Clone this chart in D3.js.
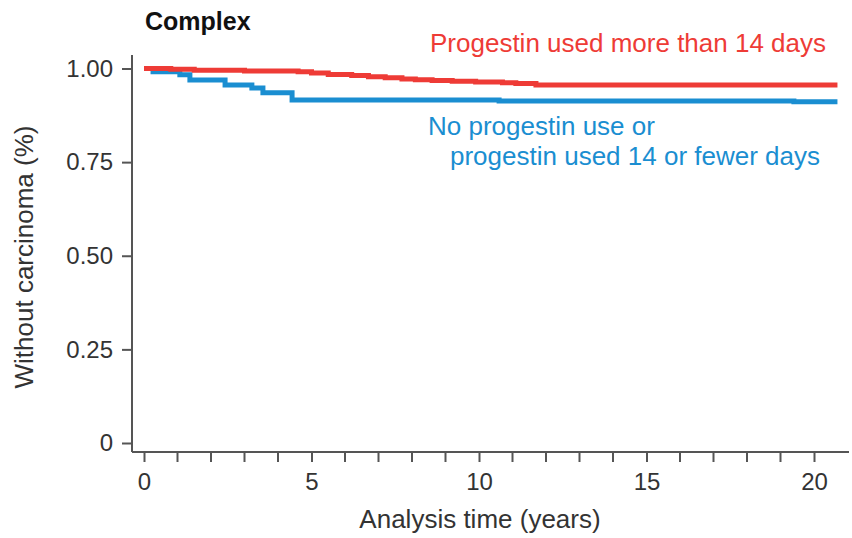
<!DOCTYPE html>
<html>
<head>
<meta charset="utf-8">
<script src="https://cdn.jsdelivr.net/npm/d3@7"></script>
<style>
    body { margin: 0; background: #fff; }
    svg { display: block; font-family: 'Liberation Sans', Arial, sans-serif; }
    .axis text { fill: #333; font-family: 'Liberation Sans', Arial, sans-serif; }
    .axis path, .axis line { stroke: #555; stroke-width: 2; }
</style>
</head>
<body>
<div class="km-container"></div>
<script>
// Data: Kaplan-Meier step points [years, proportion]
const progestinLong = [
    [0, 1.0], [0.8, 0.998], [1.5, 0.995], [3.0, 0.993], [4.6, 0.991],
    [5.0, 0.988], [5.5, 0.984], [6.2, 0.981], [6.7, 0.978], [7.2, 0.975],
    [7.7, 0.972], [8.1, 0.970], [8.6, 0.968], [9.2, 0.966], [9.9, 0.964],
    [10.7, 0.962], [11.1, 0.960], [11.7, 0.956], [20.7, 0.956]
];
const progestinShort = [
    [0, 1.0], [0.27, 0.991], [1.07, 0.983], [1.37, 0.969], [2.42, 0.956],
    [3.22, 0.948], [3.55, 0.935], [4.42, 0.916], [10.6, 0.913],
    [19.4, 0.911], [20.7, 0.911]
];
const xTicks = [0, 5, 10, 15, 20];
const xMinorTicks = d3.range(0, 21, 1);
const yTicks = [0, 0.25, 0.5, 0.75, 1];
const yTickLabels = ['0', '0.25', '0.50', '0.75', '1.00'];

const svgWidth = 852;
const svgHeight = 538;

// Scales (pixel positions measured from reference)
const xScale = d3.scaleLinear().domain([0, 20]).range([144, 814]);
const yScale = d3.scaleLinear().domain([0, 1]).range([443, 68.5]);

const svg = d3.select('.km-container')
    .append('svg')
    .attr('width', svgWidth)
    .attr('height', svgHeight);

// Axes
const axisY = 452;
const axisX = 132;

const xAxis = d3.axisBottom(xScale)
    .tickValues(xTicks)
    .tickSizeInner(10)
    .tickSizeOuter(0)
    .tickPadding(11);
const xAxisDraw = svg.append('g')
    .attr('class', 'axis x')
    .attr('transform', 'translate(0,' + axisY + ')');
xAxis(xAxisDraw);
xAxisDraw.select('.domain').attr('d', 'M' + axisX + ',0H' + 849);
xAxisDraw.selectAll('text').style('font-size', '24px');

// minor ticks
xAxisDraw.selectAll('.minor')
    .data(xMinorTicks.filter(d => xTicks.indexOf(d) < 0))
    .enter()
    .append('line')
    .attr('class', 'minor')
    .attr('x1', d => xScale(d))
    .attr('x2', d => xScale(d))
    .attr('y1', 0)
    .attr('y2', 10);

const yAxis = d3.axisLeft(yScale)
    .tickValues(yTicks)
    .tickFormat((d, i) => yTickLabels[i])
    .tickSizeInner(10)
    .tickSizeOuter(0)
    .tickPadding(9);
const yAxisDraw = svg.append('g')
    .attr('class', 'axis y')
    .attr('transform', 'translate(' + axisX + ',0)');
yAxis(yAxisDraw);
yAxisDraw.select('.domain').attr('d', 'M0,55V' + axisY);
yAxisDraw.selectAll('text').style('font-size', '24px');

// Axis titles
svg.append('text')
    .attr('x', 480)
    .attr('y', 528)
    .attr('text-anchor', 'middle')
    .style('font-size', '26px')
    .style('fill', '#333')
    .text('Analysis time (years)');

svg.append('text')
    .attr('transform', 'translate(33,257) rotate(-90)')
    .attr('text-anchor', 'middle')
    .style('font-size', '26px')
    .style('fill', '#333')
    .text('Without carcinoma (%)');

// Panel title
svg.append('text')
    .attr('x', 145)
    .attr('y', 30)
    .style('font-size', '25px')
    .style('font-weight', 'bold')
    .style('fill', '#111')
    .text('Complex');

// Curves
const line = d3.line()
    .x(d => xScale(d[0]))
    .y(d => yScale(d[1]))
    .curve(d3.curveStepAfter);

const series = [
    { name: 'short', color: '#1a8ed1', values: progestinShort },
    { name: 'long', color: '#ee3b36', values: progestinLong }
];

svg.selectAll('.km')
    .data(series)
    .enter()
    .append('path')
    .attr('class', 'km')
    .attr('d', d => line(d.values))
    .attr('fill', 'none')
    .attr('stroke', d => d.color)
    .attr('stroke-width', 5);

// Labels
svg.append('text')
    .attr('x', 430)
    .attr('y', 52)
    .style('font-size', '26px')
    .style('fill', '#ee3b36')
    .text('Progestin used more than 14 days');

svg.append('text')
    .attr('x', 428)
    .attr('y', 135)
    .style('font-size', '26px')
    .style('fill', '#1a8ed1')
    .text('No progestin use or');

svg.append('text')
    .attr('x', 450)
    .attr('y', 165)
    .style('font-size', '26px')
    .style('fill', '#1a8ed1')
    .text('progestin used 14 or fewer days');
</script>
</body>
</html>
